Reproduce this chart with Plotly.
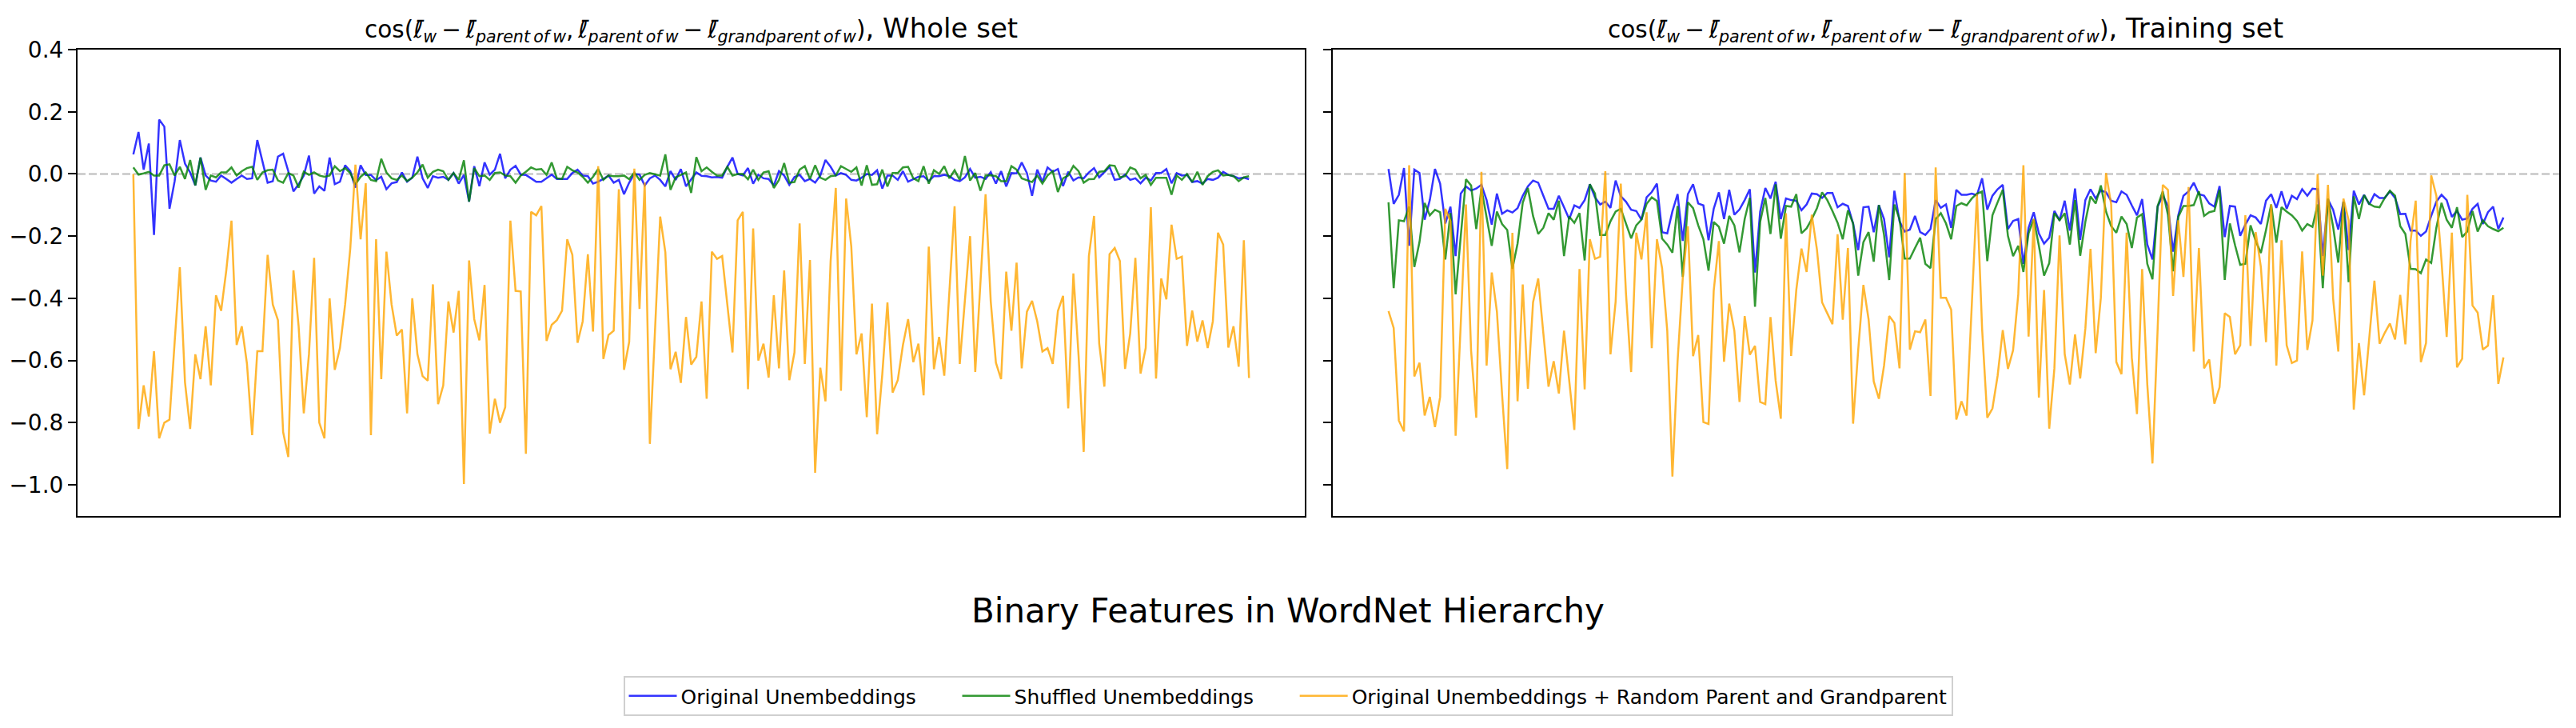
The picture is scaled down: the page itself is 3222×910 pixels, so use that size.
import plotly.graph_objects as go

# ---------------- data ----------------
whole_original = [
    0.063, 0.135, 0.014, 0.098, -0.196, 0.175, 0.152, -0.112, -0.023, 0.109,
    0.033, 0.005, -0.037, 0.053, -0.005, -0.021, -0.025, -0.005, -0.016, -0.028,
    -0.016, -0.005, -0.016, -0.014, 0.109, 0.04, -0.028, -0.023, 0.056, 0.065,
    0.009, -0.056, -0.033, -0.005, 0.059, -0.063, -0.040, -0.054, 0.053, -0.033,
    -0.025, 0.028, 0.009, -0.044, 0.028, -0.003, -0.003, -0.02, -0.009, -0.049,
    -0.03, -0.026, 0.005, -0.025, -0.012,
    0.056, -0.014, -0.045, -0.007, -0.012, -0.009, -0.019, 0.003, -0.031, -0.003,
    -0.089, 0.025, -0.039, 0.037, -0.002, 0.014, 0.065, -0.014, 0.014, 0.026,
    -0.002, -0.003, -0.014, -0.025, -0.025, -0.014, -0.002, -0.016, -0.016, -0.016,
    0.003, 0.014, -0.005, -0.007, -0.031, -0.025, -0.016, -0.005, -0.028, -0.019,
    -0.065, -0.028, 0.0, -0.002, -0.037, -0.014, -0.005, -0.019, -0.040, 0.009,
    -0.019, 0.016, -0.04, -0.019, 0.005, -0.006,
    -0.007, -0.011, -0.01, -0.012, 0.023, 0.053, 0.0, -0.005, 0.019, -0.031,
    -0.002, -0.014, -0.016, -0.037, 0.009, -0.005, -0.035, -0.01, -0.003, -0.023,
    -0.016, -0.028, -0.005, 0.045, 0.023, -0.005, 0.003, -0.003, -0.019, -0.021,
    -0.012, 0.0, -0.003, 0.012, -0.047, -0.005, -0.005, -0.019, 0.009, -0.025,
    -0.016, -0.009, -0.007, -0.023, -0.007, -0.007, -0.003, -0.007, -0.019, -0.023,
    -0.011, 0.016, -0.012, -0.009, -0.016, 0.006,
    -0.031, 0.009, -0.04, 0.003, 0.002, 0.037, 0.003, -0.07, 0.014, -0.025,
    0.021, 0.007, 0.016, -0.039, 0.007, -0.021, -0.011, -0.014, 0.005, 0.019,
    -0.011, 0.005, 0.023, -0.019, -0.016, -0.002, -0.019, -0.014, -0.03, -0.012,
    -0.021, 0.003, 0.003, 0.016, -0.03, 0.003, -0.005, -0.003, -0.026, -0.023,
    -0.031, -0.016, -0.019, -0.012, 0.007, -0.003, -0.007, -0.014, -0.012, -0.017,
]
whole_shuffled = [
    0.021, -0.002, 0.002, 0.007, -0.005, -0.005, 0.028, 0.031, -0.005, 0.023,
    -0.016, 0.045, -0.037, 0.053, -0.051, -0.005, -0.011, 0.005, 0.005, 0.021,
    -0.005, 0.009, 0.019, 0.023, -0.019, 0.005, 0.012, 0.014, -0.021, -0.028,
    0.003, -0.005, -0.044, 0.007, -0.003, 0.005, -0.005, -0.009, -0.005, 0.025,
    0.009, 0.019, 0.003, -0.033, -0.009, 0.005, -0.019, -0.023, 0.049, 0.005,
    -0.014, -0.019, -0.005, -0.023, -0.012,
    0.005, 0.03, -0.012, 0.007, 0.014, 0.009, -0.019, 0.003, -0.019, 0.044,
    -0.089, 0.019, -0.007, -0.005, -0.019, 0.003, 0.005, -0.005, -0.007, -0.028,
    -0.005, 0.007, 0.021, 0.014, 0.016, -0.003, 0.037, -0.014, -0.016, 0.023,
    0.012, 0.005, -0.009, -0.028, -0.009, 0.016, -0.019, -0.005, -0.007, -0.007,
    -0.005, -0.017, 0.005, -0.019, -0.003, 0.003, -0.002, -0.005, 0.063, -0.051,
    -0.011, -0.002, 0.005, -0.061, 0.054, 0.009,
    0.021, 0.007, -0.005, -0.005, 0.023, -0.005, 0.0, 0.0, -0.017, 0.014,
    -0.019, 0.005, 0.009, -0.045, -0.019, 0.035, -0.028, -0.026, 0.014, 0.025,
    -0.016, 0.028, -0.012, -0.019, -0.007, -0.005, 0.025, 0.016, 0.007, 0.021,
    -0.037, 0.028, -0.035, -0.033, 0.014, -0.04, 0.003, 0.003, 0.021, 0.023,
    -0.014, -0.023, 0.025, -0.031, 0.012, 0.0, 0.025, -0.014, 0.012, -0.019,
    0.058, -0.021, 0.003, -0.054, -0.005, -0.004,
    -0.007, -0.023, -0.023, 0.025, 0.014, -0.014, -0.019, -0.026, -0.005, -0.031,
    -0.005, 0.009, -0.058, -0.014, -0.005, 0.026, 0.009, -0.028, -0.017, -0.016,
    0.007, 0.009, 0.028, 0.026, -0.011, -0.007, 0.021, 0.014, -0.014, -0.003,
    -0.035, -0.012, -0.012, -0.012, -0.067, -0.005, -0.019, 0.0, -0.026, 0.007,
    -0.035, -0.007, 0.007, 0.012, -0.005, -0.003, -0.007, -0.023, -0.011, -0.007,
]
whole_random = [
    0.00, -0.82, -0.68, -0.78, -0.57, -0.85, -0.80, -0.79, -0.54, -0.30,
    -0.67, -0.82, -0.58, -0.66, -0.49, -0.68, -0.39, -0.44, -0.31, -0.15,
    -0.55, -0.49, -0.61, -0.84, -0.57, -0.57, -0.26, -0.42, -0.47, -0.83,
    -0.91, -0.31, -0.49, -0.77, -0.58, -0.27, -0.80, -0.85, -0.40, -0.63,
    -0.56, -0.42, -0.24, 0.03, -0.21, -0.03, -0.84, -0.21, -0.66, -0.25,
    -0.42, -0.52, -0.50, -0.77, -0.40,
    -0.58, -0.65, -0.665, -0.355, -0.74, -0.68, -0.41, -0.51, -0.376, -0.997,
    -0.278, -0.467, -0.535, -0.357, -0.835, -0.723, -0.80, -0.75, -0.15, -0.376,
    -0.378, -0.90, -0.122, -0.133, -0.103, -0.537, -0.485, -0.47, -0.44, -0.21,
    -0.26, -0.543, -0.474, -0.258, -0.507, 0.025, -0.595, -0.518, -0.504, -0.049,
    -0.63, -0.54, 0.017, -0.434, -0.028, -0.868, -0.513, -0.137, -0.252, -0.628,
    -0.572, -0.672, -0.46, -0.613, -0.588, -0.41,
    -0.723, -0.25, -0.273, -0.264, -0.42, -0.574, -0.149, -0.122, -0.692, -0.175,
    -0.60, -0.546, -0.655, -0.39, -0.625, -0.31, -0.663, -0.574, -0.159, -0.611,
    -0.277, -0.961, -0.623, -0.731, -0.28, -0.045, -0.697, -0.079, -0.233, -0.58,
    -0.513, -0.782, -0.417, -0.837, -0.644, -0.413, -0.703, -0.663, -0.55, -0.467,
    -0.605, -0.546, -0.712, -0.234, -0.628, -0.524, -0.649, -0.383, -0.104, -0.611,
    -0.41, -0.20, -0.637, -0.34, -0.065, -0.41,
    -0.607, -0.66, -0.314, -0.504, -0.285, -0.625, -0.443, -0.408, -0.474, -0.571,
    -0.56, -0.611, -0.441, -0.392, -0.754, -0.32, -0.583, -0.894, -0.264, -0.135,
    -0.546, -0.684, -0.258, -0.238, -0.28, -0.627, -0.513, -0.27, -0.642, -0.56,
    -0.107, -0.658, -0.336, -0.403, -0.163, -0.273, -0.266, -0.553, -0.439, -0.539,
    -0.471, -0.56, -0.474, -0.189, -0.227, -0.558, -0.49, -0.62, -0.213, -0.656,
]

train_original = [
    0.016, -0.096, -0.067, 0.019, -0.231, 0.014, 0.003, -0.147, -0.084, 0.016,
    -0.031, -0.159, -0.105, -0.264, -0.063, -0.04, -0.053, -0.047, -0.035, -0.084,
    -0.163, -0.063, -0.128, -0.117, -0.124, -0.11, -0.07, -0.04, -0.021, -0.028,
    -0.07, -0.112, -0.112, -0.07, -0.107, -0.145, -0.101, -0.109, -0.084, -0.033,
    -0.075, -0.098, -0.089, -0.109, -0.021, -0.072, -0.089, -0.115, -0.119, -0.147,
    -0.075, -0.058, -0.031, -0.187, -0.191, -0.12,
    -0.065, -0.215, -0.065, -0.033, -0.095, -0.101, -0.213, -0.112, -0.059, -0.145,
    -0.051, -0.131, -0.114, -0.084, -0.049, -0.317, -0.121, -0.045, -0.079, -0.025,
    -0.145, -0.079, -0.084, -0.086, -0.117, -0.098, -0.063, -0.065, -0.077, -0.061,
    -0.061, -0.107, -0.096, -0.103, -0.159, -0.245, -0.107, -0.105, -0.187, -0.1,
    -0.145, -0.268, -0.054, -0.152, -0.185, -0.179, -0.135, -0.187, -0.196, -0.177,
    -0.084, -0.109, -0.098, -0.173, -0.051, -0.067,
    -0.067, -0.063, -0.068, -0.014, -0.115, -0.07, -0.049, -0.035, -0.177, -0.151,
    -0.145, -0.289, -0.173, -0.123, -0.191, -0.224, -0.205, -0.119, -0.149, -0.086,
    -0.182, -0.047, -0.212, -0.084, -0.049, -0.079, -0.053, -0.059, -0.086, -0.091,
    -0.056, -0.067, -0.101, -0.133, -0.081, -0.227, -0.275, -0.105, -0.07, -0.103,
    -0.25, -0.133, -0.07, -0.056, -0.028, -0.065, -0.07, -0.095, -0.105, -0.039,
    -0.203, -0.103, -0.105, -0.199, -0.163, -0.133,
    -0.14, -0.161, -0.086, -0.065, -0.109, -0.056, -0.112, -0.07, -0.081, -0.049,
    -0.07, -0.047, -0.049, -0.264, -0.082, -0.115, -0.179, -0.089, -0.245, -0.054,
    -0.098, -0.067, -0.098, -0.065, -0.077, -0.077, -0.056, -0.077, -0.129, -0.128,
    -0.182, -0.182, -0.199, -0.185, -0.135, -0.089, -0.067, -0.084, -0.138, -0.119,
    -0.147, -0.143, -0.112, -0.096, -0.161, -0.123, -0.105, -0.177, -0.14,
]
train_shuffled = [
    -0.091, -0.367, -0.149, -0.152, -0.105, -0.299, -0.219, -0.093, -0.133, -0.115,
    -0.123, -0.275, -0.126, -0.387, -0.199, -0.017, -0.037, -0.177, -0.047, -0.143,
    -0.231, -0.121, -0.161, -0.18, -0.305, -0.224, -0.093, -0.045, -0.135, -0.193,
    -0.173, -0.126, -0.147, -0.086, -0.264, -0.137, -0.157, -0.126, -0.278, -0.033,
    -0.063, -0.196, -0.196, -0.152, -0.121, -0.112, -0.159, -0.207, -0.165, -0.147,
    -0.096, -0.075, -0.087, -0.208, -0.227, -0.253,
    -0.103, -0.331, -0.091, -0.11, -0.165, -0.21, -0.311, -0.154, -0.17, -0.224,
    -0.135, -0.165, -0.252, -0.145, -0.077, -0.427, -0.154, -0.077, -0.193, -0.033,
    -0.208, -0.103, -0.105, -0.065, -0.191, -0.175, -0.145, -0.11, -0.059, -0.084,
    -0.119, -0.157, -0.21, -0.117, -0.159, -0.327, -0.219, -0.187, -0.282, -0.1,
    -0.196, -0.341, -0.098, -0.145, -0.272, -0.272, -0.238, -0.205, -0.289, -0.303,
    -0.145, -0.126, -0.159, -0.21, -0.103, -0.094,
    -0.101, -0.079, -0.063, -0.056, -0.28, -0.133, -0.091, -0.051, -0.199, -0.264,
    -0.231, -0.315, -0.191, -0.145, -0.231, -0.327, -0.287, -0.126, -0.149, -0.126,
    -0.227, -0.084, -0.263, -0.154, -0.072, -0.095, -0.037, -0.121, -0.168, -0.189,
    -0.137, -0.161, -0.238, -0.14, -0.129, -0.289, -0.339, -0.103, -0.056, -0.131,
    -0.313, -0.138, -0.103, -0.103, -0.1, -0.056, -0.135, -0.123, -0.119, -0.051,
    -0.341, -0.159, -0.229, -0.292, -0.289, -0.165,
    -0.215, -0.254, -0.18, -0.098, -0.221, -0.107, -0.121, -0.133, -0.151, -0.182,
    -0.161, -0.17, -0.098, -0.367, -0.079, -0.17, -0.285, -0.089, -0.348, -0.072,
    -0.145, -0.068, -0.096, -0.105, -0.107, -0.077, -0.054, -0.07, -0.168, -0.193,
    -0.305, -0.306, -0.319, -0.275, -0.286, -0.173, -0.093, -0.147, -0.173, -0.107,
    -0.203, -0.185, -0.119, -0.185, -0.149, -0.168, -0.177, -0.184, -0.173,
]
train_random = [
    -0.441, -0.495, -0.793, -0.828, 0.028, -0.651, -0.607, -0.777, -0.717, -0.814,
    -0.717, -0.112, -0.152, -0.842, -0.48, -0.098, -0.569, -0.784, 0.007, -0.616,
    -0.317, -0.443, -0.709, -0.949, -0.189, -0.731, -0.355, -0.691, -0.413, -0.336,
    -0.513, -0.684, -0.602, -0.706, -0.504, -0.672, -0.823, -0.306, -0.693, -0.21,
    -0.273, -0.266, 0.009, -0.58, -0.41, -0.031, -0.383, -0.637, -0.189, -0.275,
    -0.123, -0.56, -0.21, -0.303, -0.504, -0.973,
    -0.602, -0.336, -0.168, -0.586, -0.518, -0.798, -0.804, -0.376, -0.216, -0.604,
    -0.417, -0.504, -0.733, -0.457, -0.581, -0.553, -0.733, -0.74, -0.46, -0.665,
    -0.787, -0.126, -0.585, -0.373, -0.24, -0.315, -0.131, -0.243, -0.413, -0.448,
    -0.483, -0.194, -0.469, -0.238, -0.803, -0.565, -0.357, -0.467, -0.667, -0.723,
    -0.616, -0.457, -0.479, -0.625, 0.003, -0.565, -0.506, -0.509, -0.468, -0.714,
    0.021, -0.398, -0.398, -0.436, -0.79, -0.731,
    -0.777, -0.42, -0.065, -0.499, -0.784, -0.754, -0.649, -0.502, -0.627, -0.567,
    -0.387, 0.028, -0.523, -0.145, -0.719, -0.373, -0.819, -0.625, -0.198, -0.579,
    -0.677, -0.516, -0.658, -0.497, -0.241, -0.576, -0.398, 0.003, -0.098, -0.605,
    -0.644, -0.189, -0.591, -0.772, -0.306, -0.677, -0.931, -0.5, -0.035, -0.051,
    -0.392, -0.149, -0.331, -0.042, -0.571, -0.238, -0.625, -0.597, -0.739, -0.686,
    -0.448, -0.46, -0.58, -0.551, -0.133, -0.553,
    -0.187, -0.299, -0.541, -0.098, -0.616, -0.213, -0.551, -0.608, -0.6, -0.249,
    -0.566, -0.471, 0.0, -0.327, -0.035, -0.401, -0.571, -0.079, -0.149, -0.758,
    -0.544, -0.712, -0.527, -0.343, -0.546, -0.511, -0.481, -0.532, -0.389, -0.548,
    -0.215, -0.086, -0.605, -0.544, -0.005, -0.07, -0.28, -0.524, -0.189, -0.622,
    -0.594, -0.067, -0.423, -0.446, -0.565, -0.552, -0.39, -0.675, -0.59,
]

series_names = [
    "Original Unembeddings",
    "Shuffled Unembeddings",
    "Original Unembeddings + Random Parent and Grandparent",
]
panel_titles = ["Whole set", "Training set"]
y_tick_values = [-1.0, -0.8, -0.6, -0.4, -0.2, 0.0, 0.2, 0.4]
y_tick_labels = ["\u22121.0", "\u22120.8", "\u22120.6", "\u22120.4", "\u22120.2", "0.0", "0.2", "0.4"]
suptitle = "Binary Features in WordNet Hierarchy"

# ---------------- styling ----------------
W, H = 3222, 910
FONT = "DejaVu Sans"
colors = ["rgba(0,0,255,0.8)", "rgba(0,128,0,0.8)", "rgba(255,165,0,0.8)"]
LW = 2.5

def px_x(p):
    return p / W

def px_y(p):
    return 1 - p / H

dom1 = [px_x(97), px_x(1632)]
dom2 = [px_x(1667), px_x(3201)]
ydom = [px_y(645), px_y(62)]

fig = go.Figure()
panels = [
    (whole_original, whole_shuffled, whole_random, "x", "y"),
    (train_original, train_shuffled, train_random, "x2", "y2"),
]
pad = "\u00a0" * 6
for pi, (a, b, c, xa, ya) in enumerate(panels):
    for si, vals in enumerate([a, b, c]):
        label = series_names[si] + (pad if si < 2 else "")
        fig.add_trace(go.Scatter(
            x=list(range(len(vals))), y=vals, mode="lines",
            line=dict(color=colors[si], width=LW),
            name=label, showlegend=(pi == 0),
            xaxis=xa, yaxis=ya, hoverinfo="skip",
        ))

n = len(whole_random)
xr = [-(n - 1) * 0.05, (n - 1) * 1.05]

axis_common = dict(showline=True, mirror=True, linecolor="black", linewidth=2,
                   showgrid=False, zeroline=False)
fig.update_layout(
    width=W, height=H,
    margin=dict(l=0, r=0, t=0, b=0),
    paper_bgcolor="white", plot_bgcolor="white",
    font=dict(family=FONT, color="black", size=28),
    xaxis=dict(domain=dom1, range=xr, showticklabels=False, ticks="", **axis_common),
    xaxis2=dict(domain=dom2, range=xr, showticklabels=False, ticks="", **axis_common),
    yaxis=dict(domain=ydom, range=[-1.1, 0.4], anchor="x", tickvals=y_tick_values,
               ticktext=y_tick_labels, ticks="outside", ticklen=10, tickwidth=2,
               tickcolor="black", tickfont=dict(size=28, family=FONT),
               automargin=False, **axis_common),
    yaxis2=dict(domain=ydom, range=[-1.1, 0.4], anchor="x2", matches="y",
                tickvals=y_tick_values, showticklabels=False, ticks="outside",
                ticklen=10, tickwidth=2, tickcolor="black", automargin=False,
                **axis_common),
    legend=dict(orientation="h", x=0.5, xanchor="center", y=px_y(870), yanchor="middle",
                bordercolor="#d0d0d0", borderwidth=2, bgcolor="white",
                font=dict(size=25, family=FONT), itemwidth=60,
                traceorder="normal"),
    showlegend=True,
)

# dashed zero reference line in each panel
for xa, ya in [("x", "y"), ("x2", "y2")]:
    fig.add_shape(type="line", xref=f"{xa} domain", yref=ya, x0=0, x1=1, y0=0, y1=0,
                  line=dict(color="rgba(128,128,128,0.55)", width=2, dash="10px,4px"),
                  layer="below")

lb = "<i>\u2113\u0304</i>"
ts = "\u2009"
sub_p = f"<sub><i>parent{ts}of{ts}w</i></sub>"
sub_g = f"<sub><i>grandparent{ts}of{ts}w</i></sub>"
math = (f"cos({lb}<sub><i>w</i></sub>{ts}\u2212{ts}{lb}{sub_p},{ts}"
        f"{lb}{sub_p}{ts}\u2212{ts}{lb}{sub_g})")
for dom, t in [(dom1, panel_titles[0]), (dom2, panel_titles[1])]:
    txt = f"<span style='font-size:29.5px'>{math}</span>, {t}"
    fig.add_annotation(text=txt, x=(dom[0] + dom[1]) / 2, y=px_y(60),
                       xref="paper", yref="paper", xanchor="center", yanchor="bottom",
                       showarrow=False, font=dict(size=34, family=FONT, color="black"))

fig.add_annotation(text=suptitle, x=0.5, y=px_y(763), xref="paper", yref="paper",
                   xanchor="center", yanchor="middle", showarrow=False,
                   font=dict(size=42, family=FONT, color="black"))

fig.write_html("out.html", config={"displayModeBar": False},
               post_script="document.body.style.margin='0';document.body.style.overflow='hidden';")
